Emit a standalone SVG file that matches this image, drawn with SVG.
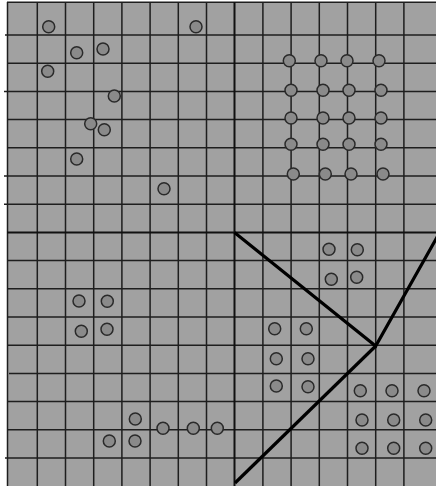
<svg xmlns="http://www.w3.org/2000/svg" width="436" height="486" viewBox="0 0 436 486">
<style>
.bg{fill:#a1a1a1}
.g{stroke:#1e1e1e;stroke-width:1.5;fill:none}
.m{stroke:#111;stroke-width:2;fill:none}
.b{stroke:#000;stroke-width:3.2;fill:none;stroke-linecap:butt;stroke-linejoin:miter}
.c{fill:#8a8a8a;stroke:#2a2a2a;stroke-width:1.5}
</style>
<defs>
<circle id="dot" r="6" class="c"/>
</defs>
<rect class="bg" x="7" y="2" width="429" height="484"/>
<g id="grid" class="g">
<path d="M7.5 2V486M37.3 2V486M65.5 2V486M93.7 2V486M121.9 2V486M150.1 2V486M178.3 2V486M206.5 2V486M262.9 2V486M291.1 2V486M319.3 2V486M347.5 2V486M375.7 2V486M403.9 2V486"/>
<path d="M7 2.3H436M5 35H436M7 63.2H436M4 91.4H436M7 119.6H436M7 147.8H436M4 176H436M4 204.2H436M7 260.6H436M7 288.8H436M7 317H436M7 345.2H436M9 373.4H436M7 401.6H436M7 429.8H436M5 458H436"/>
</g>
<g id="dividers" class="m">
<path d="M234.5 2V486M7 232.4H436"/>
</g>
<g id="connectors" class="b">
<path d="M234.5 232.4L375.7 346L440 232"/>
<path d="M375.7 346L235 483"/>
</g>
<g id="quadrant-top-left">
<use href="#dot" x="48.7" y="26.7"/>
<use href="#dot" x="196" y="26.7"/>
<use href="#dot" x="76.7" y="52.7"/>
<use href="#dot" x="103" y="49"/>
<use href="#dot" x="47.7" y="71.3"/>
<use href="#dot" x="114.3" y="96"/>
<use href="#dot" x="90.7" y="123.7"/>
<use href="#dot" x="104.3" y="129.7"/>
<use href="#dot" x="76.7" y="159"/>
<use href="#dot" x="164" y="188.7"/>
</g>
<g id="quadrant-top-right">
<use href="#dot" x="289.3" y="60.7"/>
<use href="#dot" x="321" y="60.7"/>
<use href="#dot" x="347" y="60.7"/>
<use href="#dot" x="379" y="60.7"/>
<use href="#dot" x="291" y="90.3"/>
<use href="#dot" x="323" y="90.3"/>
<use href="#dot" x="349" y="90.3"/>
<use href="#dot" x="381" y="90.3"/>
<use href="#dot" x="291" y="118"/>
<use href="#dot" x="323" y="118"/>
<use href="#dot" x="349" y="118"/>
<use href="#dot" x="381" y="118"/>
<use href="#dot" x="291" y="144.3"/>
<use href="#dot" x="323" y="144.3"/>
<use href="#dot" x="349" y="144.3"/>
<use href="#dot" x="381" y="144.3"/>
<use href="#dot" x="293.3" y="174"/>
<use href="#dot" x="325.3" y="174"/>
<use href="#dot" x="351" y="174"/>
<use href="#dot" x="383" y="174"/>
</g>
<g id="quadrant-bottom-left">
<use href="#dot" x="79" y="301"/>
<use href="#dot" x="107.3" y="301.3"/>
<use href="#dot" x="81.3" y="331.3"/>
<use href="#dot" x="107" y="329.3"/>
<use href="#dot" x="135.3" y="419"/>
<use href="#dot" x="163" y="428.3"/>
<use href="#dot" x="193.3" y="428.3"/>
<use href="#dot" x="217.3" y="428.3"/>
<use href="#dot" x="109.3" y="441"/>
<use href="#dot" x="135" y="441"/>
</g>
<g id="quadrant-bottom-right">
<use href="#dot" x="329" y="249.3"/>
<use href="#dot" x="357.3" y="249.7"/>
<use href="#dot" x="331.3" y="279.3"/>
<use href="#dot" x="356.7" y="277.3"/>
<use href="#dot" x="274.7" y="328.7"/>
<use href="#dot" x="306.3" y="328.7"/>
<use href="#dot" x="276.3" y="358.7"/>
<use href="#dot" x="308" y="358.7"/>
<use href="#dot" x="276.3" y="386"/>
<use href="#dot" x="308" y="386.7"/>
<use href="#dot" x="360.3" y="390.7"/>
<use href="#dot" x="392" y="390.7"/>
<use href="#dot" x="424" y="390.7"/>
<use href="#dot" x="362" y="420"/>
<use href="#dot" x="393.7" y="420"/>
<use href="#dot" x="425.7" y="420"/>
<use href="#dot" x="362" y="448.3"/>
<use href="#dot" x="393.7" y="448.3"/>
<use href="#dot" x="425.7" y="448.3"/>
</g>
</svg>
